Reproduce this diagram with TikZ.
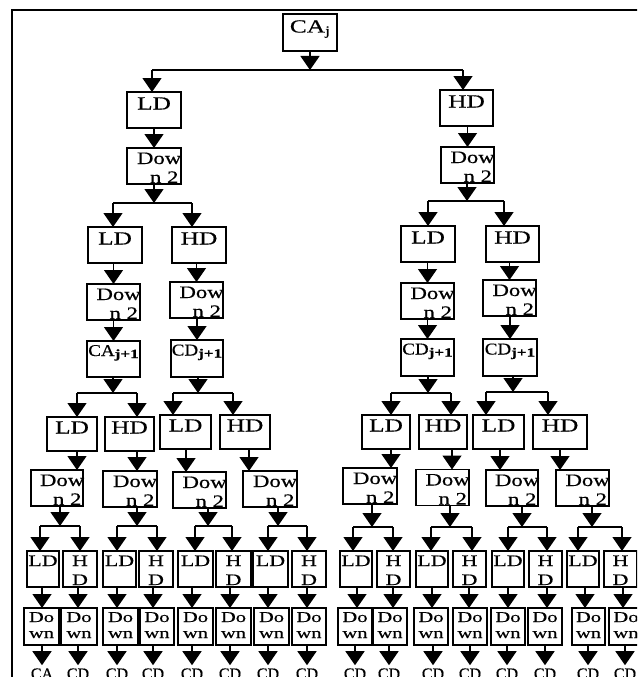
\documentclass[tikz,border=0pt]{standalone}
\usepackage{fontspec}
\setmainfont[FakeBold=0.5]{Liberation Serif}
\newfontfamily\fa[FakeStretch=1.37,FakeBold=0.5]{Liberation Serif}
\newfontfamily\fd[FakeStretch=1.3,FakeBold=0.5]{Liberation Serif}
\newfontfamily\fc[FakeStretch=1.15,FakeBold=0.5]{Liberation Serif}
\usetikzlibrary{arrows.meta}
\newcommand\fs[1]{\fontsize{#1}{#1}\selectfont}
\newcommand\txc[3]{\makebox[0pt][l]{\hspace*{#1pt}\makebox[0pt][c]{\smash{\raisebox{#2pt}{#3}}}}}
\newcommand\txl[3]{\makebox[0pt][l]{\hspace*{#1pt}\smash{\raisebox{#2pt}{#3}}}}
\newcommand\dnt{\txl{-17}{2}{\fd\fs{17.5}Dow}\txl{-4}{-17}{\fd\fs{17.5}n 2}}
\newcommand\LDt{\txc{0}{0.5}{\fa\fs{18.5}LD}}
\newcommand\HDt{\txc{0}{0.5}{\fa\fs{18.5}HD}}
\newcommand\LDs{\txc{0}{3}{\fa\fs{16}LD}}
\newcommand\HDs{\txc{0}{3}{\fa\fs{16}H}\txc{0}{-16}{\fa\fs{16}D}}
\newcommand\Dos{\txc{0}{4.5}{\fa\fs{15}Do}\txc{0}{-11.5}{\fa\fs{15}wn}}
\newcommand\CAjj{\txc{0}{3}{\fc\fs{16.5}CA\raisebox{-2pt}{\fa\bfseries\fs{12.5}j+1}}}
\newcommand\CDjj{\txc{0}{3}{\fc\fs{16.5}CD\raisebox{-2pt}{\fa\bfseries\fs{12.5}j+1}}}
\begin{document}
\begin{tikzpicture}[x=1pt,y=-1pt,
  bx/.style={draw,line width=1.5pt,inner sep=0pt,outer sep=0pt},
  arr/.style={line width=1.4pt,-{Triangle[width=19pt,length=14pt]}},
  ln/.style={line width=1.4pt},
  outt/.style={anchor=base,inner sep=3pt,font=\fs{16}}]
\useasboundingbox (0,0) rectangle (637,677);
\clip (0,0) rectangle (637,677);
\draw[line width=2.6pt] (12,700) -- (12,10) -- (660,10);

% level 0
\node[bx,minimum width=54,minimum height=37] (CAj) at (310,32.5)
  {\txc{0}{0}{\fa\fs{18.5}CA\raisebox{-2.5pt}{\fs{13}j}}};
% level 1
\node[bx,minimum width=54,minimum height=36] (L1) at (154,110) {\LDt};
\node[bx,minimum width=53,minimum height=36] (R1) at (466.5,108) {\HDt};
\node[bx,minimum width=54,minimum height=36] (L2d) at (154,166) {\dnt};
\node[bx,minimum width=53,minimum height=36] (R2d) at (467.5,165) {\dnt};
% level 2
\node[bx,minimum width=54,minimum height=36] (L2a) at (115,245) {\LDt};
\node[bx,minimum width=54,minimum height=36] (L2b) at (199,245) {\HDt};
\node[bx,minimum width=54,minimum height=36] (R2a) at (428,244) {\LDt};
\node[bx,minimum width=53,minimum height=36] (R2b) at (512.5,244) {\HDt};
\node[bx,minimum width=53,minimum height=36] (L3ad) at (113.5,302) {\dnt};
\node[bx,minimum width=53,minimum height=36] (L3bd) at (196.5,300) {\dnt};
\node[bx,minimum width=53,minimum height=36] (R3ad) at (427.5,301) {\dnt};
\node[bx,minimum width=53,minimum height=36] (R3bd) at (509.5,298) {\dnt};
% level 3
\node[bx,minimum width=53,minimum height=36] (L3a) at (113.5,359) {\CAjj};
\node[bx,minimum width=52,minimum height=37] (L3b) at (197,358.5) {\CDjj};
\node[bx,minimum width=53,minimum height=37] (R3a) at (427.5,357.5) {\CDjj};
\node[bx,minimum width=54,minimum height=37] (R3b) at (510,357.5) {\CDjj};
% level 4
\node[bx,minimum width=50,minimum height=34] (L4a) at (72,434) {\LDt};
\node[bx,minimum width=49,minimum height=34] (L4b) at (129.5,434) {\HDt};
\node[bx,minimum width=51,minimum height=34] (L4c) at (185.5,432) {\LDt};
\node[bx,minimum width=50,minimum height=34] (L4d) at (245,432) {\HDt};
\node[bx,minimum width=48,minimum height=34] (R4a) at (386,432) {\LDt};
\node[bx,minimum width=48,minimum height=34] (R4b) at (443,432) {\HDt};
\node[bx,minimum width=51,minimum height=34] (R4c) at (498.5,432) {\LDt};
\node[bx,minimum width=54,minimum height=34] (R4d) at (560,432) {\HDt};
\node[bx,minimum width=52,minimum height=36] (L4ad) at (57,488) {\dnt};
\node[bx,minimum width=54,minimum height=36] (L4bd) at (130,489) {\dnt};
\node[bx,minimum width=53,minimum height=36] (L4cd) at (199.5,490) {\dnt};
\node[bx,minimum width=54,minimum height=36] (L4dd) at (270,489) {\dnt};
\node[bx,minimum width=54,minimum height=36] (R4ad) at (370,486) {\dnt};
\node[bx,minimum width=53,minimum height=36] (R4bd) at (442.5,487.5) {\dnt};
\node[bx,minimum width=52,minimum height=36] (R4cd) at (512,488) {\dnt};
\node[bx,minimum width=53,minimum height=36] (R4dd) at (582.5,488) {\dnt};
% level 5
\foreach \i/\a/\b/\T in {1/27/59/\LDs,2/63/97/\HDs,3/103/136/\LDs,4/139/173/\HDs,
  5/178/213/\LDs,6/216/251/\HDs,7/253/288/\LDs,8/292/326/\HDs,
  9/340/372/\LDs,10/377/410/\HDs,11/416/448/\LDs,12/453/486/\HDs,
  13/492/524/\LDs,14/529/562/\HDs,15/567/599/\LDs,16/604/637/\HDs}{
  \pgfmathsetmacro\c{(\a+\b)/2}\pgfmathsetmacro\w{\b-\a}
  \node[bx,minimum width=\w,minimum height=36] (p\i) at (\c,569) {\T};
}
\foreach \i/\a/\b in {1/24/59,2/61/97,3/103/138,4/140/174,5/178/213,6/216/251,
  7/254/289,8/292/326,9/338/372,10/373/407,11/414/448,12/453/487,
  13/491/525,14/528/562,15/572/605,16/609/643}{
  \pgfmathsetmacro\c{(\a+\b)/2}\pgfmathsetmacro\w{\b-\a}
  \node[bx,minimum width=\w,minimum height=37] (q\i) at (\c,626.5) {\Dos};
}
\foreach \i/\x/\t in {1/42/CA,2/78/CD,3/117/CD,4/153/CD,5/192/CD,6/230/CD,7/268/CD,8/307/CD,
  9/355/CD,10/389/CD,11/433/CD,12/470/CD,13/507/CD,14/545/CD,15/588/CD,16/625/CD}{
  \node[outt] (o\i) at (\x,679) {\t};
  \draw[arr] (o\i.north |- q\i.south) -- (o\i.north);
}
\foreach \i/\x in {1/42,2/78,3/117,4/153,5/192,6/230,7/268,8/307,
  9/357,10/393,11/432,12/469,13/508,14/547,15/585,16/623}{
  \coordinate (k\i) at (\x,600);
  \draw[arr] (k\i |- p\i.south) -- (k\i |- q\i.north);
}

% connectors top
\coordinate (j0) at (310,70);
\coordinate (j0l) at (152,70);
\coordinate (j0r) at (463,70);
\draw[arr] (CAj.south) -- (j0);
\draw[ln] (j0l) -- (j0r);
\draw[arr] (j0l) -- (j0l |- L1.north);
\draw[arr] (j0r) -- (j0r |- R1.north);
\draw[arr] (L1.south) -- (L2d.north);
\draw[arr] (R2d.north |- R1.south) -- (R2d.north);

\foreach \P/\s/\y/\a/\b/\U/\V in {L2d/154/203/113/192/L2a/L2b,
  R2d/467/201/428/504/R2a/R2b,
  L3a/113/393/77/137/L4a/L4b, L3b/198/393/173/233/L4c/L4d,
  R3a/428/393/391/451/R4a/R4b, R3b/513/392/486/548/R4c/R4d,
  L4ad/60/526/40/80/p1/p2, L4bd/137/526/117/157/p3/p4,
  L4cd/208/526/195/232/p5/p6, L4dd/278/526/268/307/p7/p8,
  R4ad/372/527/353/393/p9/p10, R4bd/450/527/431/472/p11/p12,
  R4cd/522/527/508/547/p13/p14, R4dd/592/527/578/622/p15/p16}{
  \coordinate (s\P) at (\s,\y);
  \coordinate (a\P) at (\a,\y);
  \coordinate (b\P) at (\b,\y);
  \draw[arr] (s\P |- \P.south) -- (s\P);
  \draw[ln] (a\P) -- (b\P);
  \draw[arr] (a\P) -- (a\P |- \U.north);
  \draw[arr] (b\P) -- (b\P |- \V.north);
}

% level 2 -> level 3
\foreach \A/\B in {L2a/L3ad,L2b/L3bd,R2a/R3ad,R2b/R3bd,L3ad/L3a,L3bd/L3b,R3ad/R3a,R3bd/R3b}{
  \draw[arr] (\B.north |- \A.south) -- (\B.north);
}
% level 4 -> down
\foreach \P/\Q/\s in {L4a/L4ad/77,L4b/L4bd/137,L4c/L4cd/186,L4d/L4dd/249,
  R4a/R4ad/391,R4b/R4bd/452,R4c/R4cd/500,R4d/R4dd/560}{
  \coordinate (t\P) at (\s,460);
  \draw[arr] (t\P |- \P.south) -- (t\P |- \Q.north);
}
\end{tikzpicture}
\end{document}
